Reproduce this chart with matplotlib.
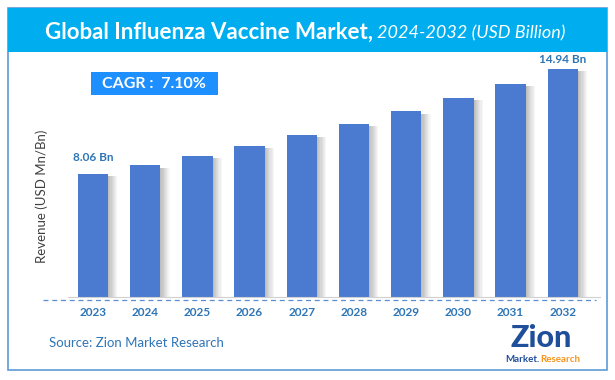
import matplotlib
matplotlib.use('Agg')
import matplotlib.pyplot as plt
from matplotlib.patches import Rectangle
from matplotlib.lines import Line2D

years = ['2023', '2024', '2025', '2026', '2027', '2028', '2029', '2030', '2031', '2032']
revenue = [8.06, 8.63, 9.25, 9.90, 10.61, 11.36, 12.17, 13.03, 13.96, 14.94]
first_label = '8.06 Bn'
last_label = '14.94 Bn'
cagr_text = 'CAGR :  7.10%'

W, H = 615, 380
plt.rcParams['font.family'] = ['Lato', 'DejaVu Sans']

fig = plt.figure(figsize=(W / 100, H / 100), dpi=100)
fig.patch.set_facecolor('white')


def fx(px):
    return px / W


def fy(py):
    return 1 - py / H


# outer frame and title banner
fig.add_artist(Rectangle((fx(8), fy(370)), fx(599), (362) / H, transform=fig.transFigure,
                         fill=False, edgecolor='#5B9BD5', linewidth=1.2))
fig.add_artist(Rectangle((fx(8), fy(52)), fx(599), 44 / H, transform=fig.transFigure,
                         facecolor='#00AEEF', edgecolor='none'))
fig.text(fx(373), fy(32), 'Global Influenza Vaccine Market,', color='white', fontsize=16,
         fontweight='bold', ha='right', va='center')
fig.text(fx(377), fy(33), '2024-2032 (USD Billion)', color='white', fontsize=13,
         style='italic', ha='left', va='center')

# main axes
left_px, right_px, base_px, top_px = 68, 600, 297, 60
ax = fig.add_axes([fx(left_px), fy(base_px), (right_px - left_px) / W, (base_px - top_px) / H])
step = 52.2
ax.set_xlim((left_px - 93) / step, (right_px - 93) / step)
ax.set_ylim(0, (base_px - top_px) / 15.26)
ax.patch.set_alpha(0)

x = list(range(len(years)))
bw = 0.58
# soft shadow at the right of every bar
for k in range(8):
    ax.bar([i + bw / 2 + k * 0.022 for i in x], [v - 0.15 for v in revenue], width=0.022,
           align='edge', color='#7F7F7F', alpha=0.5 * (1 - k / 8), linewidth=0, zorder=1)
ax.bar(x, revenue, width=bw, color='#4A7BD0', zorder=2)

ax.set_xticks(x)
ax.set_xticklabels(years, fontsize=8.5, fontweight='bold', color='#2E75B6')
ax.tick_params(axis='x', length=0, pad=7)
ax.set_yticks([])
for s in ['top', 'right', 'left']:
    ax.spines[s].set_visible(False)
ax.spines['bottom'].set_color('#D0D0D0')

ax.annotate(first_label, (x[0], revenue[0]), xytext=(0, 8), textcoords='offset points',
            ha='center', va='bottom', fontsize=8.5, fontweight='bold', color='#2E75B6')
ax.annotate(last_label, (x[-1], revenue[-1]), xytext=(0, 3), textcoords='offset points',
            ha='center', va='bottom', fontsize=8.5, fontweight='bold', color='#2E75B6')

fig.add_artist(Line2D([fx(43), fx(596)], [fy(300), fy(300)], transform=fig.transFigure,
                      color='#5B8FD0', linewidth=0.9, linestyle=(0, (4, 3))))

fig.text(fx(42), fy(196), 'Revenue (USD Mn/Bn)', rotation=90, ha='center', va='center',
         fontsize=9.5, color='#404040')

# CAGR box
fig.add_artist(Rectangle((fx(91), fy(95)), fx(127), 23 / H, transform=fig.transFigure,
                         facecolor='#1E8FFF', edgecolor='none'))
fig.text(fx(154), fy(84), cagr_text, color='white', fontsize=11.5, fontweight='bold',
         ha='center', va='center')

fig.text(fx(49), fy(343), 'Source: Zion Market Research', fontsize=9.5, color='#2E75B6',
         ha='left', va='center')

# logo
fig.text(fx(541), fy(338), 'Zion', fontsize=22, fontweight='black', color='#1F4E9A',
         ha='center', va='center')
fig.text(fx(540), fy(359), 'Market.', fontsize=7, fontweight='bold', color='#1F4E9A',
         ha='right', va='center')
fig.text(fx(540), fy(359), 'Research', fontsize=7, fontweight='bold', color='#F7941D',
         ha='left', va='center')

fig.savefig('out.png', dpi=100)
